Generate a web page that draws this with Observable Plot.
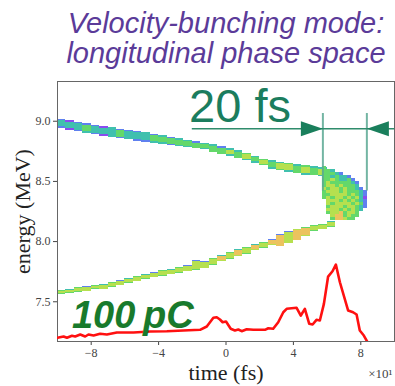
<!DOCTYPE html>
<html>
<head>
<meta charset="utf-8">
<script src="https://cdn.jsdelivr.net/npm/d3@7"></script>
<script src="https://cdn.jsdelivr.net/npm/@observablehq/plot@0.6"></script>
<style>body{margin:0;background:#fff}</style>
</head>
<body>
<div id="chart"></div>
<script>
// ---- title and labels ----
const titleLines = ["Velocity-bunching mode:", "longitudinal phase space"];
const xLabel = "time (fs)";
const yLabel = "energy (MeV)";
const xExponent = "×10¹";
const xTicks = [-8, -4, 0, 4, 8];
const xTickLabels = ["−8", "−4", "0", "4", "8"];
const yTicks = [7.5, 8.0, 8.5, 9.0];

// density colour levels 0..5 (low → high)
const palette = ["#8a4cef", "#5f80ef", "#40c0ae", "#64d86a", "#b6e04f", "#ecc35e"];

// ---- upper branch of the phase space (column start time, top/bottom energy) ----
const upperT  = [-10,-9.5,-9,-8.5,-8,-7.5,-7,-6.5,-6,-5.5,-5,-4.5,-4,-3.5,-3,-2.5,-2,-1.5,-1,-0.5,0,0.5,1,1.5,2,2.5,3,3.5,4,4.5,5,5.5];
const upperHi = [9.015,9.003,8.991,8.979,8.967,8.955,8.945,8.935,8.925,8.915,8.905,8.892,8.879,8.866,8.853,8.840,8.829,8.818,8.803,8.788,8.772,8.755,8.732,8.709,8.686,8.672,8.661,8.650,8.640,8.630,8.622,8.615];
const upperLo = [8.940,8.927,8.914,8.901,8.888,8.875,8.865,8.855,8.845,8.835,8.825,8.816,8.807,8.798,8.789,8.780,8.771,8.762,8.744,8.727,8.710,8.690,8.670,8.650,8.630,8.603,8.588,8.575,8.562,8.550,8.545,8.540];
const upperTopLv  = "10111021112121221221223232232322";
const upperCoreLv = "22232223222333333333434343443434";
const upperBotLv  = "10121021211221223233232232323232";

// ---- lower branch ----
const lowerT  = [-10,-9.5,-9,-8.5,-8,-7.5,-7,-6.5,-6,-5.5,-5,-4.5,-4,-3.5,-3,-2.5,-2,-1.5,-1,-0.5,0,0.5,1,1.5,2,2.5,3,3.5,4,4.5,5,5.5,6];
const lowerHi = [7.597,7.606,7.615,7.624,7.633,7.641,7.658,7.675,7.691,7.708,7.725,7.741,7.756,7.771,7.786,7.801,7.840,7.835,7.860,7.885,7.908,7.931,7.948,7.973,7.995,8.020,8.060,8.085,8.100,8.115,8.130,8.145,8.165];
const lowerLo = [7.562,7.571,7.580,7.589,7.598,7.606,7.622,7.637,7.652,7.668,7.684,7.700,7.712,7.724,7.736,7.749,7.762,7.774,7.805,7.832,7.852,7.873,7.893,7.923,7.945,7.965,7.960,7.985,8.010,8.045,8.080,8.100,8.120];
const lowerTopLv  = "323132312321323111323232311143332";
const lowerCoreLv = "444444444444444444454545455455444";
const lowerBotLv  = "333434343434343434343434345454343";

// ---- compressed head of the bunch: density levels on a grid ----
const blobT0 = 5.75, blobDt = 0.24, blobE0 = 8.625, blobDe = 0.025;
const blobRows = [
  "3..........",
  "332........",
  "33321......",
  "3323221....",
  "33432231...",
  "343333321..",
  "344343332..",
  "4344343321.",
  "34443433321",
  "33444434321",
  "34344343420",
  ".4443434321",
  ".4344443431",
  ".3444344321",
  ".444343432.",
  ".34453443..",
  "..4553433..",
  "..355433..."
];

// ---- current profile (arb. units) ----
const currentT = [-10,-9.64,-9.44,-9.14,-8.95,-8.65,-8.36,-8.16,-7.86,-7.47,-7.07,-6.48,-5.49,-4.50,-3.51,-2.53,-1.54,-1.14,-0.75,-0.55,-0.36,-0.20,0,0.28,0.53,0.73,0.93,1.23,1.62,2.31,2.51,2.80,3.10,3.40,3.60,4.19,4.44,4.68,4.94,5.14,5.37,5.57,5.81,6.06,6.32,6.52,6.76,7.25,7.54,7.75,7.94,8.18,8.40];
const currentI = [0.37,0.5,0.37,0.57,0.5,0.7,0.5,0.7,0.6,0.77,0.7,0.9,0.9,1.0,1.03,1.1,1.17,1.5,2.37,2.43,2.2,1.93,2.0,1.27,1.1,1.2,1.03,1.23,1.17,1.17,1.33,1.27,1.93,2.93,3.27,3.37,2.6,3.27,1.77,1.7,2.17,2.1,3.77,6.5,7.03,7.7,5.93,3.1,2.93,2.7,1.1,0.6,-0.07];
const currentBase = 7.17, currentScale = 0.083;   // maps current onto the energy axis

// ---- bunch-length annotation ----
const spanT = [5.75, 8.36];
const spanTop = 9.064, spanBottom = 8.42;
const arrowE = 8.938, arrowLineStart = -2.0;
const spanLabel = {t: -2.19, e: 8.99, text: "20 fs"};
const chargeLabel = {t: -9.14, e: 7.285, text: "100\u2009pC"};

// ---- build cells ----
function bandCells(ts, his, los, topLv, coreLv, botLv, w) {
  return ts.map((t, i) => ({
    x1: t, x2: t + w, hi: his[i], lo: los[i], mid: (his[i] + los[i]) / 2,
    top: palette[+topLv[i]], core: palette[+coreLv[i]], bot: palette[+botLv[i]]
  }));
}
const upperCells = bandCells(upperT, upperHi, upperLo, upperTopLv, upperCoreLv, upperBotLv, 0.5);
const lowerCells = bandCells(lowerT, lowerHi, lowerLo, lowerTopLv, lowerCoreLv, lowerBotLv, 0.5);

const blobCells = [];
blobRows.forEach((row, r) => {
  [...row].forEach((ch, c) => {
    if (ch === ".") return;
    const top = blobE0 - r * blobDe;
    blobCells.push({x1: blobT0 + c * blobDt, x2: blobT0 + (c + 1) * blobDt, y1: top - blobDe, y2: top, fill: palette[+ch]});
  });
});

const current = currentT.map((t, i) => ({t, e: currentBase + currentI[i] * currentScale}));

function bandMarks(cells, inset) {
  const o = {x1: "x1", x2: "x2", shapeRendering: "crispEdges"};
  return [
    Plot.rect(cells, {...o, y1: "lo", y2: "hi", fill: "bot"}),
    Plot.rect(cells, {...o, y1: "mid", y2: "hi", fill: "top"}),
    Plot.rect(cells, {...o, y1: "lo", y2: "hi", fill: "core", insetTop: inset, insetBottom: inset})
  ];
}

const arrowRight = {draw(ctx) { ctx.moveTo(0, 0); ctx.lineTo(-22, -7.5); ctx.lineTo(-22, 7.5); ctx.closePath(); }};
const arrowLeft  = {draw(ctx) { ctx.moveTo(0, 0); ctx.lineTo(22, -7.5); ctx.lineTo(22, 7.5); ctx.closePath(); }};

const sans = "Liberation Sans, Arial, sans-serif";
const serif = "Liberation Serif, Times New Roman, serif";

const chart = Plot.plot({
  width: 395,
  height: 386,
  marginLeft: 57,
  marginRight: 1,
  marginTop: 81,
  marginBottom: 45,
  style: {fontFamily: serif, fontSize: "12px", color: "#444", background: "#fff", overflow: "visible"},
  x: {domain: [-10, 10], ticks: xTicks, tickFormat: (d, i) => xTickLabels[i], tickSize: 4, tickPadding: 3, label: null},
  y: {domain: [7.17, 9.33], ticks: yTicks, tickFormat: d3.format(".1f"), tickSize: 4, tickPadding: 3, label: null},
  color: {type: "identity"},
  marks: [
    ...bandMarks(upperCells, 1.5),
    ...bandMarks(lowerCells, 1),
    Plot.rect(blobCells, {x1: "x1", x2: "x2", y1: "y1", y2: "y2", fill: "fill", shapeRendering: "crispEdges"}),
    Plot.frame({stroke: "#666"}),
    Plot.line(current, {x: "t", y: "e", stroke: "#ff1010", strokeWidth: 2.6, clip: true}),
    Plot.ruleX(spanT, {y1: spanBottom, y2: spanTop, stroke: "#5aa893", strokeWidth: 2, strokeOpacity: 0.85}),
    Plot.ruleY([arrowE], {x1: arrowLineStart, x2: 10, stroke: "#2f8c6c", strokeWidth: 1.5}),
    Plot.dot([{t: spanT[0], e: arrowE}], {x: "t", y: "e", symbol: arrowRight, fill: "#1a7f5c", stroke: "none"}),
    Plot.dot([{t: spanT[1], e: arrowE}], {x: "t", y: "e", symbol: arrowLeft, fill: "#1a7f5c", stroke: "none"}),
    Plot.text([spanLabel], {x: "t", y: "e", text: "text", textAnchor: "start", lineAnchor: "bottom", fontSize: 47, fontFamily: sans, fill: "#1b7d5e"}),
    Plot.text([chargeLabel], {x: "t", y: "e", text: "text", textAnchor: "start", lineAnchor: "bottom", fontSize: 38, fontFamily: sans, fontWeight: "bold", fontStyle: "italic", fill: "#187a2c"}),
    Plot.text([titleLines[0]], {text: d => d, frameAnchor: "top", dy: -49, lineAnchor: "bottom", fontSize: 29, fontFamily: sans, fontStyle: "italic", fill: "#5b3b99"}),
    Plot.text([titleLines[1]], {text: d => d, frameAnchor: "top", dy: -19, lineAnchor: "bottom", fontSize: 29, fontFamily: sans, fontStyle: "italic", fill: "#5b3b99"}),
    Plot.text([xLabel], {text: d => d, frameAnchor: "bottom", dy: 38, lineAnchor: "bottom", fontSize: 22, fill: "#222"}),
    Plot.text([yLabel], {text: d => d, frameAnchor: "left", dx: -35, rotate: -90, textAnchor: "middle", fontSize: 22, fill: "#222"}),
    Plot.text([xExponent], {text: d => d, frameAnchor: "bottom-right", dx: -2, dy: 36, textAnchor: "end", lineAnchor: "bottom", fontSize: 13, fill: "#444"})
  ]
});
document.getElementById("chart").append(chart);
</script>
</body>
</html>
